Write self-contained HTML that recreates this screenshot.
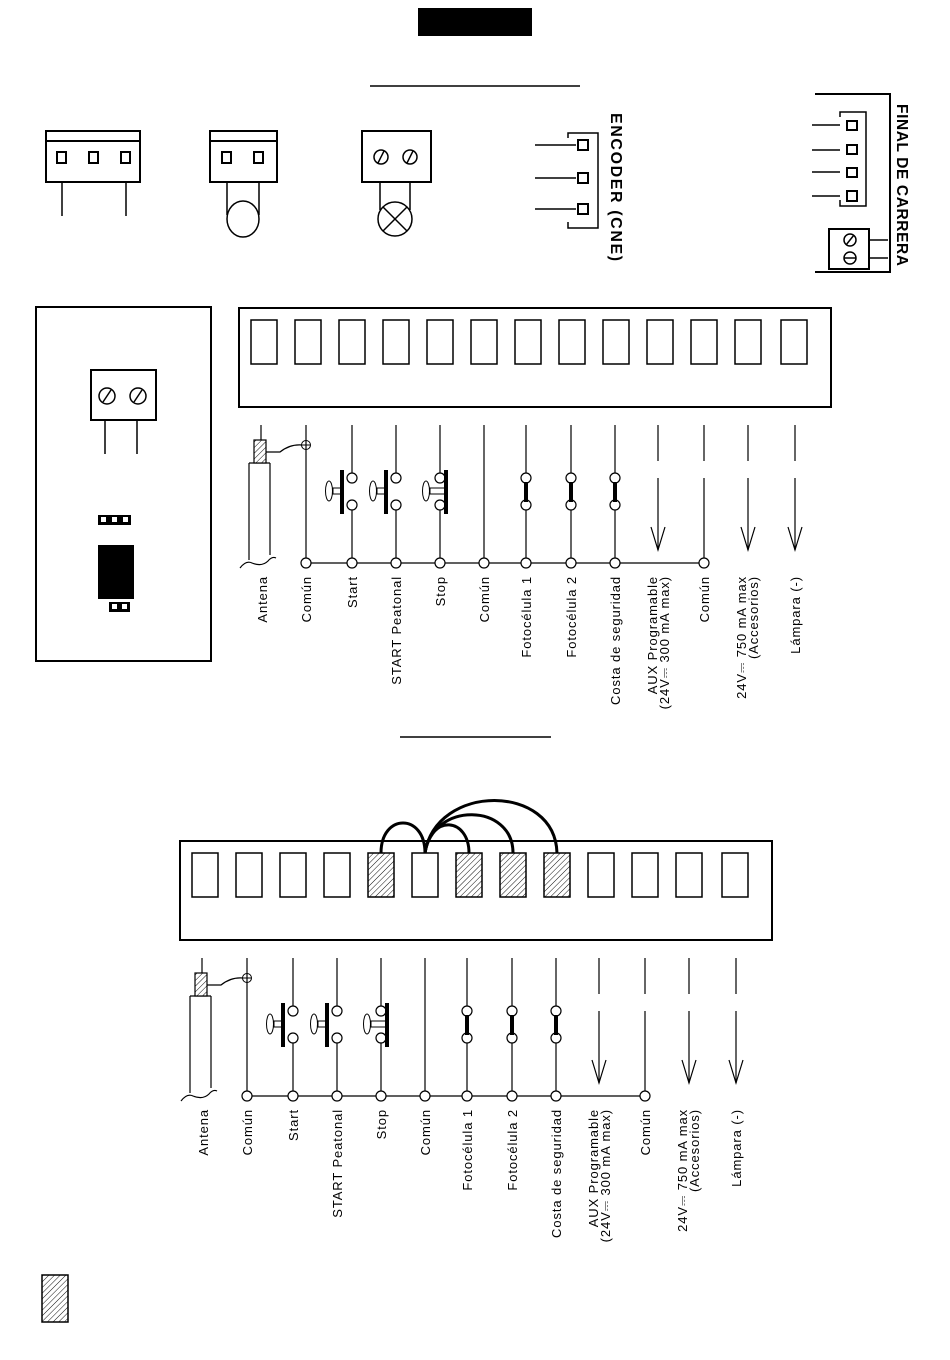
<!DOCTYPE html>
<html><head><meta charset="utf-8"><style>
html,body{margin:0;padding:0;background:#fff}
svg{display:block}
text{font-family:"Liberation Sans",sans-serif;fill:#000}
.lb{font-size:13px;letter-spacing:0.9px}
</style></head><body>
<svg width="950" height="1360" viewBox="0 0 950 1360" xmlns="http://www.w3.org/2000/svg">
<defs>
<pattern id="h" width="4" height="4" patternUnits="userSpaceOnUse" patternTransform="rotate(-45)">
<rect width="4" height="4" fill="#fff"/><line x1="0" y1="0" x2="4" y2="0" stroke="#111" stroke-width="1"/>
</pattern>
</defs>
<rect x="418" y="8" width="114" height="28" fill="#000"/>
<line x1="370" y1="86" x2="580" y2="86" stroke="#000" stroke-width="1.5"/>
<line x1="400" y1="737" x2="551" y2="737" stroke="#000" stroke-width="1.5"/>

<g fill="none" stroke="#000" stroke-width="2">
<rect x="46" y="131" width="94" height="51"/><line x1="46" y1="141" x2="140" y2="141"/>
<rect x="57" y="152" width="9" height="11"/><rect x="89" y="152" width="9" height="11"/><rect x="121" y="152" width="9" height="11"/>
<line x1="62" y1="182" x2="62" y2="216" stroke-width="1.5"/><line x1="126" y1="182" x2="126" y2="216" stroke-width="1.5"/>
<rect x="210" y="131" width="67" height="51"/><line x1="210" y1="141" x2="277" y2="141"/>
<rect x="222" y="152" width="9" height="11"/><rect x="254" y="152" width="9" height="11"/>
<line x1="227" y1="182" x2="227" y2="215" stroke-width="1.5"/><line x1="259" y1="182" x2="259" y2="215" stroke-width="1.5"/>
<ellipse cx="243" cy="219" rx="16" ry="18" stroke-width="1.5"/>
<rect x="362" y="131" width="69" height="51"/>
<circle cx="381" cy="157" r="7" stroke-width="1.5"/><circle cx="410" cy="157" r="7" stroke-width="1.5"/>
<line x1="378" y1="163" x2="384" y2="151" stroke-width="1.5"/><line x1="407" y1="163" x2="413" y2="151" stroke-width="1.5"/>
<line x1="380" y1="182" x2="380" y2="210" stroke-width="1.5"/><line x1="410" y1="182" x2="410" y2="210" stroke-width="1.5"/>
<circle cx="395" cy="219" r="17" stroke-width="1.5"/>
<line x1="383" y1="207" x2="407" y2="231" stroke-width="1.5"/><line x1="407" y1="207" x2="383" y2="231" stroke-width="1.5"/>
<polyline points="568,138 568,133 598,133 598,228 568,228 568,222" stroke-width="1.5"/>
<rect x="578" y="140" width="10" height="10"/><rect x="578" y="173" width="10" height="10"/><rect x="578" y="204" width="10" height="10"/>
<line x1="535" y1="145" x2="576" y2="145" stroke-width="1.5"/><line x1="535" y1="178" x2="576" y2="178" stroke-width="1.5"/><line x1="535" y1="209" x2="576" y2="209" stroke-width="1.5"/>
<polyline points="815,94 890,94 890,272 815,272"/>
<polyline points="840,117 840,112 866,112 866,206 840,206 840,200" stroke-width="1.5"/>
<rect x="847" y="121" width="10" height="9"/><rect x="847" y="145" width="10" height="9"/><rect x="847" y="168" width="10" height="9"/><rect x="847" y="191" width="10" height="10"/>
<line x1="812" y1="125" x2="840" y2="125" stroke-width="1.5"/><line x1="812" y1="150" x2="840" y2="150" stroke-width="1.5"/><line x1="812" y1="172" x2="840" y2="172" stroke-width="1.5"/><line x1="812" y1="196" x2="840" y2="196" stroke-width="1.5"/>
<rect x="829" y="229" width="40" height="40"/>
<circle cx="850" cy="240" r="6" stroke-width="1.5"/><line x1="846" y1="245" x2="854" y2="235" stroke-width="1.5"/>
<circle cx="850" cy="258" r="6" stroke-width="1.5"/><line x1="844" y1="258" x2="856" y2="258" stroke-width="1.5"/>
<line x1="869" y1="240" x2="888" y2="240" stroke-width="1.5"/><line x1="869" y1="258" x2="888" y2="258" stroke-width="1.5"/>
<rect x="36" y="307" width="175" height="354"/>
<rect x="91" y="370" width="65" height="50"/>
<circle cx="107" cy="396" r="8" stroke-width="1.5"/><line x1="103" y1="402" x2="111" y2="390" stroke-width="1.5"/>
<circle cx="138" cy="396" r="8" stroke-width="1.5"/><line x1="134" y1="402" x2="142" y2="390" stroke-width="1.5"/>
<line x1="105" y1="420" x2="105" y2="454" stroke-width="1.5"/><line x1="137" y1="420" x2="137" y2="454" stroke-width="1.5"/>
</g>
<text transform="translate(611,113) rotate(90)" font-size="16" font-weight="bold" letter-spacing="1.6">ENCODER (CNE)</text>
<text transform="translate(897,104) rotate(90)" font-size="15.5" font-weight="bold" letter-spacing="0.6">FINAL DE CARRERA</text>
<rect x="98" y="515" width="33" height="10" fill="#000"/>
<rect x="101" y="517" width="5" height="5" fill="#fff"/><rect x="112" y="517" width="5" height="5" fill="#fff"/><rect x="123" y="517" width="5" height="5" fill="#fff"/>
<rect x="98" y="545" width="36" height="54" fill="#000"/>
<rect x="109" y="602" width="21" height="10" fill="#000"/>
<rect x="112" y="604" width="5" height="5" fill="#fff"/><rect x="122" y="604" width="5" height="5" fill="#fff"/>

<g>
<g fill="none" stroke="#000">
<rect x="239" y="308" width="592" height="99" stroke-width="2"/>
<g stroke-width="1.5">
<rect x="251" y="320" width="26" height="44"/><rect x="295" y="320" width="26" height="44"/><rect x="339" y="320" width="26" height="44"/><rect x="383" y="320" width="26" height="44"/><rect x="427" y="320" width="26" height="44"/><rect x="471" y="320" width="26" height="44"/><rect x="515" y="320" width="26" height="44"/><rect x="559" y="320" width="26" height="44"/><rect x="603" y="320" width="26" height="44"/><rect x="647" y="320" width="26" height="44"/><rect x="691" y="320" width="26" height="44"/><rect x="735" y="320" width="26" height="44"/><rect x="781" y="320" width="26" height="44"/>
</g>
<g stroke-width="1.2">
<line x1="306" y1="425" x2="306" y2="563"/>
<line x1="352" y1="425" x2="352" y2="473"/><line x1="352" y1="510" x2="352" y2="563"/>
<line x1="396" y1="425" x2="396" y2="473"/><line x1="396" y1="510" x2="396" y2="563"/>
<line x1="440" y1="425" x2="440" y2="473"/><line x1="440" y1="510" x2="440" y2="563"/>
<line x1="484" y1="425" x2="484" y2="563"/>
<line x1="526" y1="425" x2="526" y2="473"/><line x1="526" y1="510" x2="526" y2="563"/>
<line x1="571" y1="425" x2="571" y2="473"/><line x1="571" y1="510" x2="571" y2="563"/>
<line x1="615" y1="425" x2="615" y2="473"/><line x1="615" y1="510" x2="615" y2="563"/>
<line x1="658" y1="425" x2="658" y2="461"/><line x1="658" y1="478" x2="658" y2="550"/><polyline points="651,527 658,550 665,527"/>
<line x1="704" y1="425" x2="704" y2="461"/><line x1="704" y1="478" x2="704" y2="563"/>
<line x1="748" y1="425" x2="748" y2="461"/><line x1="748" y1="478" x2="748" y2="550"/><polyline points="741,527 748,550 755,527"/>
<line x1="795" y1="425" x2="795" y2="461"/><line x1="795" y1="478" x2="795" y2="550"/><polyline points="788,527 795,550 802,527"/>
<line x1="306" y1="563" x2="704" y2="563"/>
<line x1="261" y1="425" x2="261" y2="440"/>
<path d="M249,463 L249,560 M270,463 L270,555 M249,463 L270,463 M240,568 Q246,560 252,563 Q262,567 268,561 Q272,556 276,558"/>
<path d="M266,452 L280,452 Q290,444 302,445"/>
</g>
<rect x="254" y="440" width="12" height="23" fill="url(#h)" stroke-width="1.2"/>
<circle cx="306" cy="445" r="4.5" stroke-width="1"/><line x1="302" y1="445" x2="310" y2="445" stroke-width="1"/><line x1="306" y1="441" x2="306" y2="449" stroke-width="1"/>
<g fill="#fff" stroke-width="1.2">
<circle cx="352" cy="478" r="5"/><circle cx="352" cy="505" r="5"/>
<circle cx="396" cy="478" r="5"/><circle cx="396" cy="505" r="5"/>
<circle cx="440" cy="478" r="5"/><circle cx="440" cy="505" r="5"/>
<circle cx="526" cy="478" r="5"/><circle cx="526" cy="505" r="5"/>
<circle cx="571" cy="478" r="5"/><circle cx="571" cy="505" r="5"/>
<circle cx="615" cy="478" r="5"/><circle cx="615" cy="505" r="5"/>
<circle cx="306" cy="563" r="5"/><circle cx="352" cy="563" r="5"/><circle cx="396" cy="563" r="5"/><circle cx="440" cy="563" r="5"/><circle cx="484" cy="563" r="5"/><circle cx="526" cy="563" r="5"/><circle cx="571" cy="563" r="5"/><circle cx="615" cy="563" r="5"/><circle cx="704" cy="563" r="5"/>
</g>
<g stroke-width="1">
<rect x="333" y="488" width="8" height="6"/><ellipse cx="329" cy="491" rx="3.5" ry="10"/>
<rect x="377" y="488" width="8" height="6"/><ellipse cx="373" cy="491" rx="3.5" ry="10"/>
<rect x="430" y="488" width="15" height="6"/><ellipse cx="426" cy="491" rx="3.5" ry="10"/>
</g>
</g>
<rect x="340" y="470" width="4" height="44" fill="#000"/>
<rect x="384" y="470" width="4" height="44" fill="#000"/>
<rect x="444" y="470" width="4" height="44" fill="#000"/>
<rect x="524" y="482" width="4" height="20" fill="#000"/>
<rect x="569" y="482" width="4" height="20" fill="#000"/>
<rect x="613" y="482" width="4" height="20" fill="#000"/>
<g class="lb" text-anchor="end">
<text transform="translate(267,576) rotate(-90)">Antena</text>
<text transform="translate(311,576) rotate(-90)">Común</text>
<text transform="translate(357,576) rotate(-90)">Start</text>
<text transform="translate(401,576) rotate(-90)">START Peatonal</text>
<text transform="translate(445,576) rotate(-90)">Stop</text>
<text transform="translate(489,576) rotate(-90)">Común</text>
<text transform="translate(531,576) rotate(-90)">Fotocélula 1</text>
<text transform="translate(576,576) rotate(-90)">Fotocélula 2</text>
<text transform="translate(620,576) rotate(-90)">Costa de seguridad</text>
<text transform="translate(657,576) rotate(-90)">AUX Programable</text>
<text transform="translate(669,576) rotate(-90)">(24V⎓ 300 mA max)</text>
<text transform="translate(709,576) rotate(-90)">Común</text>
<text transform="translate(746,576) rotate(-90)">24V⎓ 750 mA max</text>
<text transform="translate(758,576) rotate(-90)">(Accesorios)</text>
<text transform="translate(800,576) rotate(-90)">Lámpara (-)</text>
</g>
</g>

<g transform="translate(-59,533)">
<g fill="none" stroke="#000">
<rect x="239" y="308" width="592" height="99" stroke-width="2"/>
<g stroke-width="1.5">
<rect x="251" y="320" width="26" height="44"/><rect x="295" y="320" width="26" height="44"/><rect x="339" y="320" width="26" height="44"/><rect x="383" y="320" width="26" height="44"/><rect x="427" y="320" width="26" height="44" fill="url(#h)"/><rect x="471" y="320" width="26" height="44"/><rect x="515" y="320" width="26" height="44" fill="url(#h)"/><rect x="559" y="320" width="26" height="44" fill="url(#h)"/><rect x="603" y="320" width="26" height="44" fill="url(#h)"/><rect x="647" y="320" width="26" height="44"/><rect x="691" y="320" width="26" height="44"/><rect x="735" y="320" width="26" height="44"/><rect x="781" y="320" width="26" height="44"/>
</g>
<g stroke-width="3">
<path d="M440,320 C440,280 484,280 484,320"/>
<path d="M484,320 C490,280 528,285 528,320"/>
<path d="M484,320 C492,268 572,270 572,320"/>
<path d="M484,320 C495,250 614,250 616,320"/>
</g>
<g stroke-width="1.2">
<line x1="306" y1="425" x2="306" y2="563"/>
<line x1="352" y1="425" x2="352" y2="473"/><line x1="352" y1="510" x2="352" y2="563"/>
<line x1="396" y1="425" x2="396" y2="473"/><line x1="396" y1="510" x2="396" y2="563"/>
<line x1="440" y1="425" x2="440" y2="473"/><line x1="440" y1="510" x2="440" y2="563"/>
<line x1="484" y1="425" x2="484" y2="563"/>
<line x1="526" y1="425" x2="526" y2="473"/><line x1="526" y1="510" x2="526" y2="563"/>
<line x1="571" y1="425" x2="571" y2="473"/><line x1="571" y1="510" x2="571" y2="563"/>
<line x1="615" y1="425" x2="615" y2="473"/><line x1="615" y1="510" x2="615" y2="563"/>
<line x1="658" y1="425" x2="658" y2="461"/><line x1="658" y1="478" x2="658" y2="550"/><polyline points="651,527 658,550 665,527"/>
<line x1="704" y1="425" x2="704" y2="461"/><line x1="704" y1="478" x2="704" y2="563"/>
<line x1="748" y1="425" x2="748" y2="461"/><line x1="748" y1="478" x2="748" y2="550"/><polyline points="741,527 748,550 755,527"/>
<line x1="795" y1="425" x2="795" y2="461"/><line x1="795" y1="478" x2="795" y2="550"/><polyline points="788,527 795,550 802,527"/>
<line x1="306" y1="563" x2="704" y2="563"/>
<line x1="261" y1="425" x2="261" y2="440"/>
<path d="M249,463 L249,560 M270,463 L270,555 M249,463 L270,463 M240,568 Q246,560 252,563 Q262,567 268,561 Q272,556 276,558"/>
<path d="M266,452 L280,452 Q290,444 302,445"/>
</g>
<rect x="254" y="440" width="12" height="23" fill="url(#h)" stroke-width="1.2"/>
<circle cx="306" cy="445" r="4.5" stroke-width="1"/><line x1="302" y1="445" x2="310" y2="445" stroke-width="1"/><line x1="306" y1="441" x2="306" y2="449" stroke-width="1"/>
<g fill="#fff" stroke-width="1.2">
<circle cx="352" cy="478" r="5"/><circle cx="352" cy="505" r="5"/>
<circle cx="396" cy="478" r="5"/><circle cx="396" cy="505" r="5"/>
<circle cx="440" cy="478" r="5"/><circle cx="440" cy="505" r="5"/>
<circle cx="526" cy="478" r="5"/><circle cx="526" cy="505" r="5"/>
<circle cx="571" cy="478" r="5"/><circle cx="571" cy="505" r="5"/>
<circle cx="615" cy="478" r="5"/><circle cx="615" cy="505" r="5"/>
<circle cx="306" cy="563" r="5"/><circle cx="352" cy="563" r="5"/><circle cx="396" cy="563" r="5"/><circle cx="440" cy="563" r="5"/><circle cx="484" cy="563" r="5"/><circle cx="526" cy="563" r="5"/><circle cx="571" cy="563" r="5"/><circle cx="615" cy="563" r="5"/><circle cx="704" cy="563" r="5"/>
</g>
<g stroke-width="1">
<rect x="333" y="488" width="8" height="6"/><ellipse cx="329" cy="491" rx="3.5" ry="10"/>
<rect x="377" y="488" width="8" height="6"/><ellipse cx="373" cy="491" rx="3.5" ry="10"/>
<rect x="430" y="488" width="15" height="6"/><ellipse cx="426" cy="491" rx="3.5" ry="10"/>
</g>
</g>
<rect x="340" y="470" width="4" height="44" fill="#000"/>
<rect x="384" y="470" width="4" height="44" fill="#000"/>
<rect x="444" y="470" width="4" height="44" fill="#000"/>
<rect x="524" y="482" width="4" height="20" fill="#000"/>
<rect x="569" y="482" width="4" height="20" fill="#000"/>
<rect x="613" y="482" width="4" height="20" fill="#000"/>
<g class="lb" text-anchor="end">
<text transform="translate(267,576) rotate(-90)">Antena</text>
<text transform="translate(311,576) rotate(-90)">Común</text>
<text transform="translate(357,576) rotate(-90)">Start</text>
<text transform="translate(401,576) rotate(-90)">START Peatonal</text>
<text transform="translate(445,576) rotate(-90)">Stop</text>
<text transform="translate(489,576) rotate(-90)">Común</text>
<text transform="translate(531,576) rotate(-90)">Fotocélula 1</text>
<text transform="translate(576,576) rotate(-90)">Fotocélula 2</text>
<text transform="translate(620,576) rotate(-90)">Costa de seguridad</text>
<text transform="translate(657,576) rotate(-90)">AUX Programable</text>
<text transform="translate(669,576) rotate(-90)">(24V⎓ 300 mA max)</text>
<text transform="translate(709,576) rotate(-90)">Común</text>
<text transform="translate(746,576) rotate(-90)">24V⎓ 750 mA max</text>
<text transform="translate(758,576) rotate(-90)">(Accesorios)</text>
<text transform="translate(800,576) rotate(-90)">Lámpara (-)</text>
</g>
</g>

<rect x="42" y="1275" width="26" height="47" fill="url(#h)" stroke="#000" stroke-width="1.5"/>
</svg>
</body></html>
